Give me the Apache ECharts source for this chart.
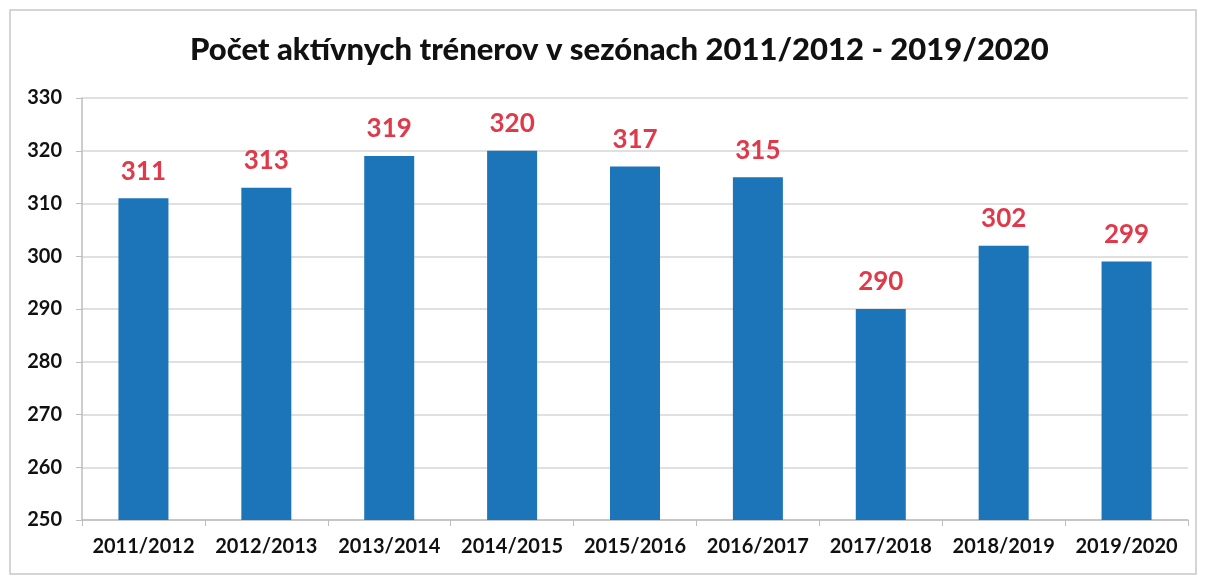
<!DOCTYPE html>
<html>
<head>
<meta charset="utf-8">
<script src="https://cdn.jsdelivr.net/npm/echarts@6/dist/echarts.min.js"></script>
<style>
  html, body { margin: 0; padding: 0; background: #fff; }
  #chart { width: 1205px; height: 578px; }
</style>
</head>
<body>
<div id="chart"></div>
<script>
// sezóny a počty trénerov
const seasons = ['2011/2012', '2012/2013', '2013/2014', '2014/2015', '2015/2016', '2016/2017', '2017/2018', '2018/2019', '2019/2020']
const coaches = [311, 313, 319, 320, 317, 315, 290, 302, 299]

const chart = echarts.init(document.getElementById('chart'))
chart.setOption({
  animation: false,
  textStyle: { fontFamily: 'Lato, "Open Sans", sans-serif' },
  title: {
    text: 'Počet aktívnych trénerov v sezónach 2011/2012 - 2019/2020',
    left: 185,
    top: 29,
    textStyle: { fontSize: 31, fontWeight: 900, color: '#111', fontFamily: 'Lato, sans-serif' }
  },
  graphic: [{
    type: 'rect',
    shape: { x: 10, y: 10, width: 1186, height: 564 },
    style: { fill: 'none', stroke: '#c8c8c8', lineWidth: 1.5 },
    z: -1
  }],
  grid: { left: 82, right: 17, top: 98, bottom: 58 },
  xAxis: {
    type: 'category',
    data: seasons,
    axisLine: { lineStyle: { color: '#bdbdbd', width: 1.5 } },
    axisTick: { show: true, alignWithLabel: false, length: 6, lineStyle: { color: '#bdbdbd' } },
    axisLabel: { color: '#111', fontSize: 20, fontWeight: 'bold', margin: 17, interval: 0 }
  },
  yAxis: {
    type: 'value',
    min: 250,
    max: 330,
    interval: 10,
    axisLine: { show: true, lineStyle: { color: '#bdbdbd', width: 1.5 } },
    axisTick: { show: true, length: 6, lineStyle: { color: '#bdbdbd' } },
    axisLabel: { color: '#111', fontSize: 20, fontWeight: 'bold', margin: 20 },
    splitLine: { lineStyle: { color: '#d6d6d6', width: 1.5 } }
  },
  series: [{
    type: 'bar',
    data: coaches,
    barWidth: 50,
    itemStyle: { color: '#1d75b9' },
    label: {
      show: true,
      position: 'top',
      distance: 14,
      color: '#e0394a',
      fontSize: 26,
      fontWeight: 'bold'
    }
  }]
})
</script>
</body>
</html>
